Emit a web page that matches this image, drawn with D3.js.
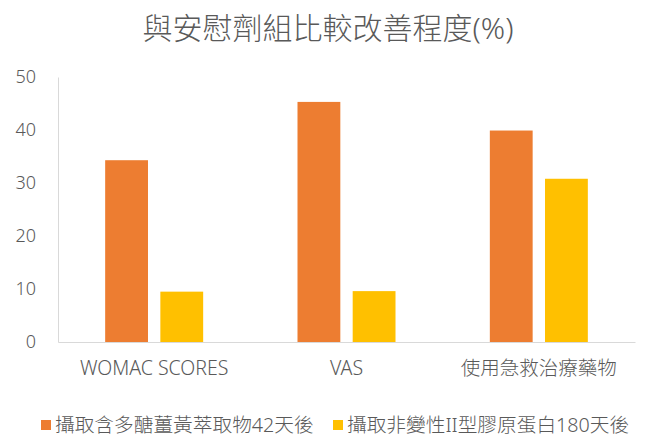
<!DOCTYPE html>
<html>
<head>
<meta charset="utf-8">
<script src="https://cdn.jsdelivr.net/npm/d3@7"></script>
<style>
  body { margin: 0; background: #fff; }
  text { font-family: "Noto Sans", "Noto Sans CJK TC", sans-serif; fill: #595959; font-weight: 300; }
</style>
</head>
<body>
<svg class="chart" width="645" height="444"></svg>
<script>
const categories = ["WOMAC SCORES", "VAS", "使用急救治療藥物"]
const seriesNames = ["攝取含多醣薑黃萃取物42天後", "攝取非變性II型膠原蛋白180天後"]
const curcumin = [34.3, 45.3, 39.9]
const collagen = [9.5, 9.6, 30.8]
const yTicks = [0, 10, 20, 30, 40, 50]
const colors = ["#ed7d31", "#ffc000"]

const svg = d3.select("svg.chart")

const margin = { top: 77, left: 58, right: 10, bottom: 102 }
const width = 645 - margin.left - margin.right
const height = 444 - margin.top - margin.bottom

const rows = categories.map((c, i) => ({ cat: c, values: [curcumin[i], collagen[i]] }))

const x0 = d3.scaleBand()
  .domain(categories)
  .range([margin.left, margin.left + width])
  .padding(0)

const groupWidth = 98
const x1 = d3.scaleBand()
  .domain([0, 1])
  .range([0, groupWidth])
  .paddingInner(0.224)

const y = d3.scaleLinear()
  .domain([0, 50])
  .range([margin.top + height, margin.top])

// title
svg.append("text")
  .attr("x", 328)
  .attr("y", 39)
  .attr("text-anchor", "middle")
  .style("font-size", "30px")
  .text("與安慰劑組比較改善程度(%)")

// y axis
const yAxis = svg.append("g")
  .attr("transform", `translate(${margin.left},0)`)
  .call(d3.axisLeft(y).tickValues(yTicks).tickSize(0).tickPadding(22))
yAxis.select(".domain").attr("stroke", "#d9d9d9")
yAxis.selectAll("text").style("font-size", "18px").attr("fill", "#595959")

// bars
const groups = svg.selectAll("g.grp")
  .data(rows)
  .enter()
  .append("g")
  .attr("class", "grp")
  .attr("transform", d => `translate(${x0(d.cat) + (x0.bandwidth() - groupWidth) / 2},0)`)

groups.selectAll("rect")
  .data(d => d.values)
  .enter()
  .append("rect")
  .attr("x", (d, i) => x1(i))
  .attr("width", x1.bandwidth())
  .attr("y", d => y(d))
  .attr("height", d => y(0) - y(d))
  .attr("fill", (d, i) => colors[i])

// x axis
const xAxis = svg.append("g")
  .attr("transform", `translate(0,${y(0)})`)
  .call(d3.axisBottom(x0).tickSize(0).tickPadding(19).tickSizeOuter(0))
xAxis.select(".domain").attr("stroke", "#d9d9d9")
xAxis.selectAll("text").style("font-size", "19.5px").attr("fill", "#595959")

// legend
const legendX = [41, 333]
const legend = svg.selectAll("g.legend")
  .data(seriesNames)
  .enter()
  .append("g")
  .attr("class", "legend")
  .attr("transform", (d, i) => `translate(${legendX[i]}, 420)`)

legend.append("rect")
  .attr("width", 10)
  .attr("height", 10)
  .attr("fill", (d, i) => colors[i])

legend.append("text")
  .attr("x", 14)
  .attr("y", 12)
  .style("font-size", "19.7px")
  .text(d => d)
</script>
</body>
</html>
